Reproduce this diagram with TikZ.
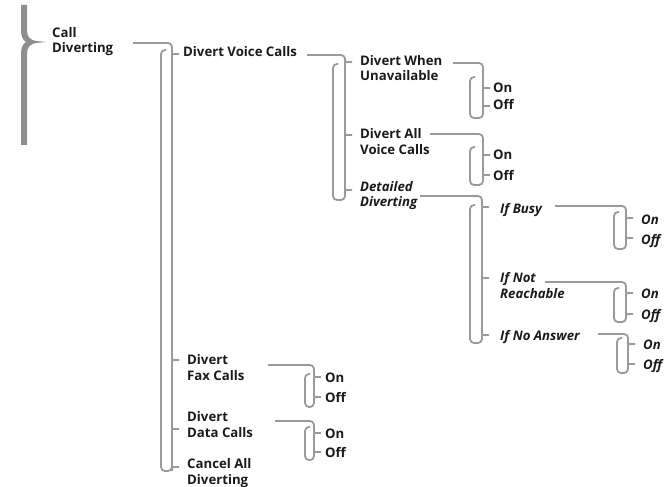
\documentclass[tikz,border=0pt]{standalone}
\usepackage{fontspec}
\setmainfont{Open Sans}
\definecolor{lg}{HTML}{9A9A9A}
\definecolor{bg}{HTML}{8E8E8E}
\definecolor{tx}{HTML}{1A1A1A}
\newcommand\mybrk[7]{%
  \draw[conn] (#1,#2) -- (#4,#2) -- (#4,#6) -- (#3,#6) -- (#3,#5) -- (#3+5,#5);
  \foreach \t in {#7} {%
    \draw[tipst] (#4,\t-4) .. controls (#4,\t) .. (#4+4,\t) -- (#4+7,\t);
    \draw[tipst] (#4,\t+4) .. controls (#4,\t) .. (#4+4,\t);
  }%
}
\begin{document}
\begin{tikzpicture}[x=1pt,y=-1pt,
  lbl/.style={anchor=base west,inner sep=0pt,align=left,text=tx,font=\fontsize{13.2}{15.5}\selectfont\bfseries},
  ilbl/.style={lbl,font=\fontsize{13.2}{15.5}\selectfont\bfseries\itshape},
  conn/.style={draw=lg,line width=1.8pt,rounded corners=4pt},
  tipst/.style={draw=lg,line width=1.6pt}]
\useasboundingbox (0,0) rectangle (665,487);
% big brace
\fill[bg] (21,5) -- (27,5) -- (27,30) .. controls (27,37) and (30,40) .. (36,41) -- (46,42)
  -- (36,43) .. controls (30,44) and (27,47) .. (27,54) -- (27,145) -- (21,145) -- (21,54)
  .. controls (21,47) and (23,44) .. (26,42) .. controls (23,40) and (21,37) .. (21,30) -- cycle;
% labels (multi-line nodes: base = last line)
\node[lbl] (cd) at (52,53) {Call\\Diverting};
\node[lbl] (dvc) at (183,57) {Divert Voice Calls};
\node[lbl] (dwu) at (360,81) {Divert When\\Unavailable};
\node[lbl] (dwuon) at (493,93) {On};
\node[lbl] (dwuoff) at (493,110) {Off};
\node[lbl] (dav) at (360,154) {Divert All\\Voice Calls};
\node[lbl] (davon) at (493,160) {On};
\node[lbl] (davoff) at (493,180) {Off};
\node[ilbl] (dd) at (360,207) {Detailed\\Diverting};
\node[ilbl] (ib) at (500,213) {If Busy};
\node[ilbl] (ibon) at (641,224) {On};
\node[ilbl] (iboff) at (641,244) {Off};
\node[ilbl] (inr) at (500,298) {If Not\\Reachable};
\node[ilbl] (inron) at (641,298) {On};
\node[ilbl] (inroff) at (641,319) {Off};
\node[ilbl] (ina) at (500,340) {If No Answer};
\node[ilbl] (inaon) at (643,349) {On};
\node[ilbl] (inaoff) at (643,369) {Off};
\node[lbl] (dfc) at (187,380) {Divert\\Fax Calls};
\node[lbl] (dfcon) at (325,382) {On};
\node[lbl] (dfcoff) at (325,402) {Off};
\node[lbl] (ddc) at (187,437) {Divert\\Data Calls};
\node[lbl] (ddcon) at (325,438) {On};
\node[lbl] (ddcoff) at (325,457) {Off};
\node[lbl] (cad) at (187,484) {Cancel All\\Diverting};
% brackets
\mybrk{133}{43}{161}{172}{50}{471}{54,360,429,467}
\mybrk{307}{55}{333}{345}{64}{200}{62,135,190}
\mybrk{453}{63}{470}{483}{77}{118}{88,106}
\mybrk{430}{134}{470}{483}{147}{185}{155,175}
\mybrk{420}{196}{470}{482}{205}{343}{207,278,335}
\mybrk{555}{206}{614}{626}{212}{249}{218,238}
\mybrk{545}{282}{614}{626}{288}{322}{293,314}
\mybrk{598}{334}{617}{628}{338}{373}{344,364}
\mybrk{268}{365}{305}{314}{374}{407}{377,397}
\mybrk{275}{421}{305}{314}{427}{460}{433,452}
\end{tikzpicture}
\end{document}
